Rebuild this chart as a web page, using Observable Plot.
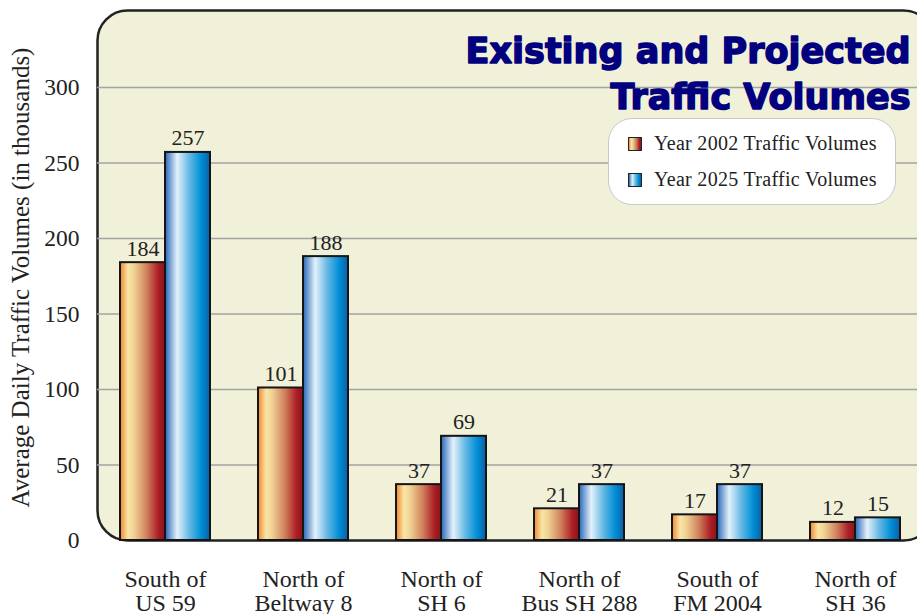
<!DOCTYPE html>
<html>
<head>
<meta charset="utf-8">
<script src="https://cdn.jsdelivr.net/npm/d3@7"></script>
<script src="https://cdn.jsdelivr.net/npm/@observablehq/plot@0.6"></script>
<style>
  html, body { margin: 0; padding: 0; background: #ffffff; overflow: hidden; }
  #wrap { position: relative; width: 917px; height: 614px; overflow: hidden; }
  #legend {
    position: absolute; left: 608px; top: 118px; width: 288px; height: 87px;
    box-sizing: border-box; background: #ffffff; border: 1.2px solid #c9c9c9;
    border-radius: 24px; font-family: "Liberation Serif", serif; font-size: 20px;
    letter-spacing: 0.3px; color: #222;
  }
  .item { position: absolute; left: 19px; display: flex; align-items: center; white-space: nowrap; }
  .sw { width: 12px; height: 12px; border: 1.5px solid #222; margin-right: 12px; }
</style>
</head>
<body>
<div id="wrap"></div>
<script>
const categories = ["South of\nUS 59", "North of\nBeltway 8", "North of\nSH 6", "North of\nBus SH 288", "South of\nFM 2004", "North of\nSH 36"];
const volumes2002 = [184, 101, 37, 21, 17, 12];
const volumes2025 = [257, 188, 69, 37, 37, 15];
const seriesNames = ["Year 2002 Traffic Volumes", "Year 2025 Traffic Volumes"];
const yTicks = [0, 50, 100, 150, 200, 250, 300];
const titleText = "Existing and Projected\nTraffic Volumes";
const yLabel = "Average Daily Traffic Volumes (in thousands)";

const rows = categories.map((c, i) => ({category: c, v2002: volumes2002[i], v2025: volumes2025[i]}));

const orangeStops = [[0, "#f0862e"], [0.18, "#f8e6a6"], [0.32, "#f0d092"], [0.6, "#cf7f5c"], [0.85, "#ad1f26"], [1, "#86141a"]];
const blueStops = [[0, "#2566b8"], [0.27, "#e4f1fa"], [0.55, "#62b6e4"], [0.8, "#0090d6"], [1, "#0a5ea8"]];

function defsMark() {
  const defs = d3.create("svg:defs");
  for (const [id, stops] of [["gOrange", orangeStops], ["gBlue", blueStops]]) {
    const g = defs.append("linearGradient").attr("id", id).attr("x1", "0").attr("x2", "1").attr("y1", "0").attr("y2", "0");
    for (const [o, c] of stops) g.append("stop").attr("offset", o).attr("stop-color", c);
  }
  return defs.node();
}

const plot = Plot.plot({
  width: 960,
  height: 614,
  marginLeft: 97,
  marginRight: 27,
  marginTop: 10,
  marginBottom: 74,
  style: {fontFamily: "Liberation Serif, serif", fontSize: "22px", color: "#222", background: "transparent", overflow: "visible"},
  x: {domain: categories, range: [119, 900], paddingInner: 0.349, paddingOuter: 0, align: 0.5, axis: null},
  y: {domain: [0, 300], range: [540, 87], axis: null},
  marks: [
    defsMark,
    Plot.frame({fill: "#f1f0d8", stroke: "#222", strokeWidth: 2.5, rx: 30}),
    Plot.gridY(yTicks.filter(d => d > 0), {stroke: "#a3a3a3", strokeOpacity: 1, strokeWidth: 1.4}),
    Plot.axisY(yTicks, {tickSize: 0, tickPadding: 18, fontSize: 23.5, label: null}),
    Plot.axisX({tickSize: 0, tickPadding: 29, fontSize: 24, lineHeight: 1.0, label: null, ariaLabel: "xticks"}),
    Plot.text([yLabel], {frameAnchor: "left", textAnchor: "middle", lineAnchor: "middle", rotate: -90, dx: -77, dy: 2, fontSize: 25, fill: "#222", ariaLabel: "ylabel"}),
    Plot.text([titleText], {frameAnchor: "top-right", textAnchor: "end", lineAnchor: "top", dx: -23, dy: 20, lineHeight: 1.31,
      fontSize: 35, fontWeight: "bold", fontFamily: "DejaVu Sans, sans-serif", fill: "#03007f", stroke: "#03007f", strokeWidth: 1.5}),
    Plot.barY(rows, {x: "category", y: "v2002", fill: "url(#gOrange)", stroke: "#151515", strokeWidth: 2, insetRight: 45}),
    Plot.barY(rows, {x: "category", y: "v2025", fill: "url(#gBlue)", stroke: "#151515", strokeWidth: 2, insetLeft: 45}),
    Plot.text(rows, {x: "category", y: "v2002", text: d => String(d.v2002), dx: -22.5, dy: -7, lineAnchor: "bottom", fontSize: 22, fill: "#222"}),
    Plot.text(rows, {x: "category", y: "v2025", text: d => String(d.v2025), dx: 22.5, dy: -7, lineAnchor: "bottom", fontSize: 22, fill: "#222"})
  ]
});
plot.style.maxWidth = "none";
d3.select(plot).selectAll("[aria-label=frame] rect, rect[aria-label=frame]").attr("rx", 30).attr("ry", 30);
d3.select(plot).selectAll("g[aria-label=ylabel] text").style("letter-spacing", "1.1px");
d3.select(plot).selectAll("g[aria-label=xticks] text").style("letter-spacing", "0.3px");
document.getElementById("wrap").appendChild(plot);

const legend = document.createElement("div");
legend.id = "legend";
const grads = [orangeStops, blueStops];
seriesNames.forEach((name, i) => {
  const item = document.createElement("div");
  item.className = "item";
  item.style.top = (i === 0 ? 13 : 49) + "px";
  const sw = document.createElement("div");
  sw.className = "sw";
  sw.style.background = "linear-gradient(to right, " + grads[i].map(([o, c]) => c + " " + (o * 100) + "%").join(", ") + ")";
  const t = document.createElement("span");
  t.textContent = name;
  item.appendChild(sw);
  item.appendChild(t);
  legend.appendChild(item);
});
document.getElementById("wrap").appendChild(legend);
</script>
</body>
</html>
